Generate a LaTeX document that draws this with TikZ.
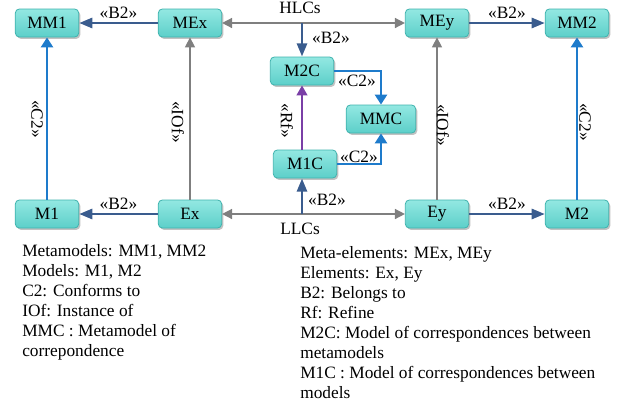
\documentclass[tikz,border=0pt]{standalone}
\usepackage{fontspec}
\setmainfont{Liberation Serif}
\usetikzlibrary{arrows.meta,shadows,calc}
\definecolor{boxtop}{HTML}{93E8E2}
\definecolor{boxbot}{HTML}{5CCFC9}
\definecolor{boxline}{HTML}{3FB3AE}
\definecolor{bdark}{HTML}{3A5C8E}
\definecolor{bblue}{HTML}{1E7BCB}
\definecolor{garr}{HTML}{7F7F7F}
\definecolor{purp}{HTML}{7A3FA6}
\tikzset{
  box/.style={draw=boxline, line width=0.6pt, rounded corners=3pt, top color=boxtop, bottom color=boxbot,
    minimum width=47.5pt, minimum height=21pt, inner sep=0pt, font=\fontsize{13}{15}\selectfont,
    drop shadow={shadow xshift=1.2pt, shadow yshift=-1.4pt, fill=black!40, opacity=0.6}},
  b2/.style={-{Triangle[length=10pt,width=7.5pt]}, draw=bdark, line width=2.2pt},
  c2/.style={-{Triangle[length=7.5pt,width=9pt]}, draw=bblue, line width=1.9pt},
  gra/.style={-{Triangle[length=7.5pt,width=7.5pt]}, draw=garr, line width=1.1pt},
  rf/.style={-{Triangle[length=7.5pt,width=8pt]}, draw=purp, line width=1.6pt},
  lab/.style={font=\fontsize{13}{15}\selectfont, inner sep=1pt},
  legend/.style={font=\fontsize{13}{15}\selectfont, align=left, inner sep=0pt, anchor=north west}
}
\begin{document}
\begin{tikzpicture}[x=0.75pt,y=-0.75pt]
\useasboundingbox (0,0) rectangle (619,411);
% nodes
\node[box] (MM1) at (47,23) {MM1};
\node[box] (MEx) at (190,23) {MEx};
\node[box] (MEy) at (437,23) {MEy};
\node[box] (MM2) at (577,23) {MM2};
\node[box] (M2C) at (302,71) {M2C};
\node[box, minimum width=52pt] (MMC) at (381,119) {MMC};
\node[box] (M1C) at (305,164) {M1C};
\node[box] (M1) at (47,214) {M1};
\node[box] (Ex) at (190,214) {Ex};
\node[box] (Ey) at (437,214) {Ey};
\node[box] (M2) at (577,214) {M2};
\coordinate (h) at (302,23);
\coordinate (l) at (302,214);
\node[lab] (HL) at (300,8) {HLCs};
\node[lab] (LL) at (300,229) {LLCs};
% B2
\draw[b2] (MEx) -- (MM1) node[lab, midway, above=1pt] {«B2»};
\draw[b2] (Ex) -- (M1) node[lab, midway, above=1pt] {«B2»};
\draw[b2] (MEy) -- (MM2) node[lab, midway, above=1pt] {«B2»};
\draw[b2] (Ey) -- (M2) node[lab, midway, above=1pt] {«B2»};
% HLC / LLC
\draw[gra] (h) -- (MEx);
\draw[gra] (h) -- (MEy);
\draw[gra] (l) -- (Ex);
\draw[gra] (l) -- (Ey);
\draw[b2] (h) -- (M2C.north);
\node[lab] at (331,38) {«B2»};
\draw[b2] (l) -- (l |- M1C.south);
\node[lab] at (327,200) {«B2»};
% C2 to MMC
\draw[c2] (M2C.east) -| (MMC.north);
\node[lab] at (357,81) {«C2»};
\draw[c2] (M1C.east) -| (MMC.south);
\node[lab] at (359,157) {«C2»};
% Rf
\draw[rf] (M2C.south |- M1C.north) -- (M2C.south);
\node[lab, rotate=-90] at (287,121) {«Rf»};
% verticals
\draw[c2] (M1) -- (MM1);
\node[lab, rotate=-90] at (37,119) {«C2»};
\draw[c2] (M2) -- (MM2);
\node[lab, rotate=-90] at (585,122) {«C2»};
\draw[gra] (Ex) -- (MEx);
\node[lab, rotate=-90] at (178,122) {«IOf»};
\draw[gra] (Ey) -- (MEy);
\node[lab, rotate=-90] at (443,125) {«IOf»};
% legends
\node[legend] (LegL) at (22,244) {Metamodels: MM1, MM2\\Models: M1, M2\\C2: Conforms to\\IOf: Instance of\\MMC : Metamodel of\\correpondence};
\node[legend] (LegR) at (300,246) {Meta-elements: MEx, MEy\\Elements: Ex, Ey\\B2: Belongs to\\Rf: Refine\\M2C: Model of correspondences between\\metamodels\\M1C : Model of correspondences between\\models};
\end{tikzpicture}
\end{document}
